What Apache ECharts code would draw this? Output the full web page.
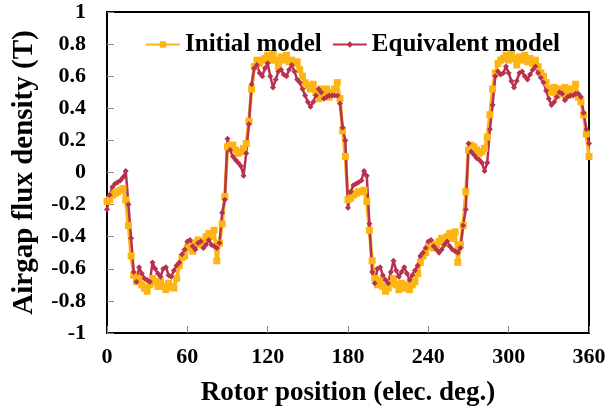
<!DOCTYPE html>
<html>
<head>
<meta charset="utf-8">
<script src="https://cdn.jsdelivr.net/npm/echarts@6/dist/echarts.min.js"></script>
<style>
  html, body { margin: 0; padding: 0; background: #fff; }
  .chart { width: 610px; height: 416px; }
</style>
</head>
<body>
<div class="chart"></div>
<script>
// rotor position, elec. deg. (2 deg step)
const positions = [
  0, 2, 4, 6, 8, 10, 12, 14, 16, 18, 20, 22, 24, 26, 28, 30, 32, 34, 36, 38,
  40, 42, 44, 46, 48, 50, 52, 54, 56, 58, 60, 62, 64, 66, 68, 70, 72, 74, 76, 78,
  80, 82, 84, 86, 88, 90, 92, 94, 96, 98, 100, 102, 104, 106, 108, 110, 112, 114, 116, 118,
  120, 122, 124, 126, 128, 130, 132, 134, 136, 138, 140, 142, 144, 146, 148, 150, 152, 154, 156, 158,
  160, 162, 164, 166, 168, 170, 172, 174, 176, 178, 180, 182, 184, 186, 188, 190, 192, 194, 196, 198,
  200, 202, 204, 206, 208, 210, 212, 214, 216, 218, 220, 222, 224, 226, 228, 230, 232, 234, 236, 238,
  240, 242, 244, 246, 248, 250, 252, 254, 256, 258, 260, 262, 264, 266, 268, 270, 272, 274, 276, 278,
  280, 282, 284, 286, 288, 290, 292, 294, 296, 298, 300, 302, 304, 306, 308, 310, 312, 314, 316, 318,
  320, 322, 324, 326, 328, 330, 332, 334, 336, 338, 340, 342, 344, 346, 348, 350, 352, 354, 356, 358,
  360
];

// Initial model (T)
const initialModel = [
  -0.18, -0.17, -0.14, -0.13, -0.12, -0.11, -0.10, -0.17, -0.33, -0.52,
  -0.64, -0.68, -0.66, -0.70, -0.72, -0.74, -0.70, -0.66, -0.68, -0.71,
  -0.68, -0.71, -0.73, -0.69, -0.71, -0.72, -0.66, -0.58, -0.53, -0.52,
  -0.47, -0.46, -0.49, -0.44, -0.42, -0.45, -0.43, -0.40, -0.38, -0.40,
  -0.36, -0.55, -0.44, -0.32, -0.15, 0.16, 0.17, 0.17, 0.14, 0.12,
  0.13, 0.15, 0.18, 0.32, 0.52, 0.66, 0.70, 0.68, 0.70, 0.71,
  0.73, 0.70, 0.74, 0.70, 0.66, 0.72, 0.70, 0.73, 0.69, 0.70,
  0.68, 0.69, 0.64, 0.60, 0.56, 0.54, 0.52, 0.55, 0.50, 0.46,
  0.52, 0.48, 0.52, 0.47, 0.50, 0.52, 0.56, 0.46, 0.26, 0.10,
  -0.17, -0.16, -0.14, -0.13, -0.12, -0.12, -0.11, -0.18, -0.36, -0.55,
  -0.66, -0.70, -0.67, -0.71, -0.74, -0.72, -0.69, -0.66, -0.70, -0.73,
  -0.69, -0.72, -0.70, -0.73, -0.70, -0.68, -0.63, -0.56, -0.52, -0.50,
  -0.46, -0.44, -0.47, -0.45, -0.43, -0.41, -0.44, -0.40, -0.38, -0.41,
  -0.37, -0.56, -0.45, -0.33, -0.12, 0.14, 0.17, 0.16, 0.14, 0.12,
  0.13, 0.15, 0.22, 0.36, 0.52, 0.62, 0.68, 0.70, 0.71, 0.73,
  0.70, 0.74, 0.71, 0.67, 0.72, 0.70, 0.73, 0.69, 0.71, 0.68,
  0.70, 0.66, 0.62, 0.60, 0.56, 0.52, 0.50, 0.53, 0.48, 0.52,
  0.49, 0.53, 0.48, 0.52, 0.50, 0.55, 0.47, 0.44, 0.36, 0.24,
  0.10
];

// Equivalent model (T)
const equivalentModel = [
  -0.23, -0.14, -0.09, -0.07, -0.06, -0.05, -0.03, 0.01, -0.20, -0.41,
  -0.62, -0.68, -0.59, -0.63, -0.66, -0.67, -0.68, -0.56, -0.60, -0.63,
  -0.65, -0.60, -0.59, -0.64, -0.65, -0.61, -0.58, -0.56, -0.51, -0.48,
  -0.43, -0.42, -0.46, -0.48, -0.44, -0.43, -0.47, -0.45, -0.42, -0.45,
  -0.46, -0.47, -0.44, -0.25, -0.17, 0.21, 0.14, 0.10, 0.08, 0.06,
  0.04, -0.02, 0.12, 0.30, 0.55, 0.65, 0.67, 0.62, 0.60, 0.65,
  0.68, 0.60, 0.53, 0.58, 0.63, 0.64, 0.61, 0.60, 0.64, 0.67,
  0.63, 0.58, 0.56, 0.52, 0.48, 0.44, 0.41, 0.44, 0.48, 0.52,
  0.50, 0.46, 0.47, 0.48, 0.48, 0.48, 0.48, 0.43, 0.28, 0.20,
  -0.22, -0.12, -0.08, -0.07, -0.06, -0.05, 0.01, -0.02, -0.32, -0.62,
  -0.69, -0.60, -0.59, -0.64, -0.67, -0.69, -0.62, -0.55, -0.61, -0.65,
  -0.62, -0.59, -0.63, -0.67, -0.64, -0.61, -0.58, -0.52, -0.50, -0.47,
  -0.43, -0.42, -0.46, -0.48, -0.50, -0.48, -0.45, -0.43, -0.46, -0.48,
  -0.49, -0.50, -0.47, -0.33, -0.23, 0.18, 0.13, 0.11, 0.09, 0.08,
  0.06, 0.01, 0.06, 0.27, 0.42, 0.60, 0.63, 0.61, 0.62, 0.66,
  0.62, 0.57, 0.53, 0.57, 0.62, 0.63, 0.60, 0.58, 0.61, 0.64,
  0.66, 0.62, 0.59, 0.56, 0.51, 0.46, 0.42, 0.44, 0.47, 0.50,
  0.49, 0.45, 0.47, 0.48, 0.48, 0.49, 0.49, 0.47, 0.37, 0.27,
  0.18
];

const seriesNames = ["Initial model", "Equivalent model"];
const xTicks = { min: 0, max: 360, step: 60 };
const yTicks = { min: -1, max: 1, step: 0.2 };

function pairs(ys) {
  return positions.map((x, i) => [x, ys[i]]);
}

function setLine() {
  let myChart = echarts.init(document.querySelector(".chart"));
  const font = "'Liberation Serif', 'Times New Roman', serif";
  let option = {
    animation: false,
    backgroundColor: "#fff",
    textStyle: { fontFamily: font },
    grid: {
      left: 107,
      right: 21,
      top: 12,
      bottom: 83,
      outerBoundsMode: "none",
      containLabel: false,
      show: true,
      borderColor: "#000",
      borderWidth: 2,
    },
    legend: {
      left: 140,
      top: 27,
      itemGap: 10,
      itemWidth: 34,
      itemHeight: 8,
      textStyle: {
        fontFamily: font,
        fontWeight: "bold",
        fontSize: 25,
        color: "#000",
      },
      data: seriesNames,
    },
    xAxis: {
      type: "value",
      min: xTicks.min,
      max: xTicks.max,
      interval: xTicks.step,
      name: "Rotor position (elec. deg.)",
      nameLocation: "middle",
      nameGap: 47,
      nameTextStyle: { fontFamily: font, fontWeight: "bold", fontSize: 27, color: "#000" },
      axisLine: { onZero: false, lineStyle: { color: "#000", width: 2 } },
      axisTick: { inside: true, length: 7, lineStyle: { color: "#888" } },
      axisLabel: { margin: 13, fontFamily: font, fontWeight: "bold", fontSize: 22, color: "#000" },
      splitLine: { show: false },
    },
    yAxis: {
      type: "value",
      min: yTicks.min,
      max: yTicks.max,
      interval: yTicks.step,
      name: "Airgap flux density (T)",
      nameLocation: "middle",
      nameGap: 68,
      nameTextStyle: { fontFamily: font, fontWeight: "bold", fontSize: 29, color: "#000" },
      axisLine: { onZero: false, lineStyle: { color: "#000", width: 2 } },
      axisTick: { inside: true, length: 7, lineStyle: { color: "#888" } },
      axisLabel: {
        margin: 21,
        fontFamily: font,
        fontWeight: "bold",
        fontSize: 22,
        color: "#000",
        formatter: (v) => String(Math.round(v * 10) / 10),
      },
      splitLine: { show: false },
    },
    series: [
      {
        name: seriesNames[0],
        type: "line",
        symbol: "rect",
        symbolSize: 7,
        showAllSymbol: true,
        itemStyle: { color: "#FDB515" },
        lineStyle: { color: "#FDB515", width: 3.5 },
        data: pairs(initialModel),
      },
      {
        name: seriesNames[1],
        type: "line",
        symbol: "diamond",
        symbolSize: 6,
        showAllSymbol: true,
        itemStyle: { color: "#B8314F" },
        lineStyle: { color: "#B8314F", width: 2.5 },
        data: pairs(equivalentModel),
      },
    ],
  };
  myChart.setOption(option);
}
setLine();
</script>
</body>
</html>
